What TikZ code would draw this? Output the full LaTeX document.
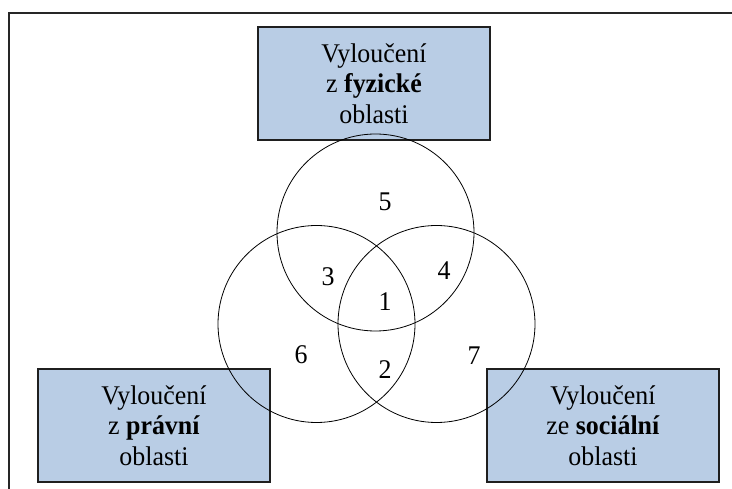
\documentclass[tikz,border=0pt]{standalone}
\usepackage{fontspec}
\setmainfont{Liberation Serif}[FakeStretch=0.96]
\definecolor{boxblue}{HTML}{B9CDE5}
\definecolor{boxline}{HTML}{1F1F1F}
\begin{document}
\begin{tikzpicture}[x=1pt,y=-1pt,
  areabox/.style={draw=boxline, line width=1.4pt, fill=boxblue,
    minimum width=232pt, minimum height=113pt, align=center,
    inner sep=0pt, font=\fontsize{27}{30.5}\selectfont},
  ring/.style={circle, draw=black, line width=0.8pt, minimum size=197pt, inner sep=0pt},
  num/.style={inner sep=0pt, font=\fontsize{27}{30}\selectfont}]
\useasboundingbox (0,0) rectangle (732,489);
% frame
\coordinate (fbl) at (9,489);
\coordinate (ftl) at (9,13);
\coordinate (ftr) at (732,13);
\draw[line width=1.8pt, black!85] (fbl) -- (ftl) -- (ftr);
% boxes
\node[areabox] (fyz) at (374,83.5) {Vyloučení\\z \textbf{fyzické}\\oblasti};
\node[areabox] (prav) at (154,425.5) {Vyloučení\\z \textbf{právní}\\oblasti};
\node[areabox] (soc) at (603,425.5) {Vyloučení\\ze \textbf{sociální}\\oblasti};
% circles
\node[ring] (ctop) at (375.5,232.5) {};
\node[ring] (cleft) at (316.5,324) {};
\node[ring] (cright) at (436.5,324) {};
% numbers
\node[num] (n5) at (385,202) {5};
\node[num] (n3) at (328,277) {3};
\node[num] (n4) at (444,271) {4};
\node[num] (n1) at (385,302) {1};
\node[num] (n6) at (301,355) {6};
\node[num] (n2) at (385,370) {2};
\node[num] (n7) at (474,355.5) {7};
\end{tikzpicture}
\end{document}
